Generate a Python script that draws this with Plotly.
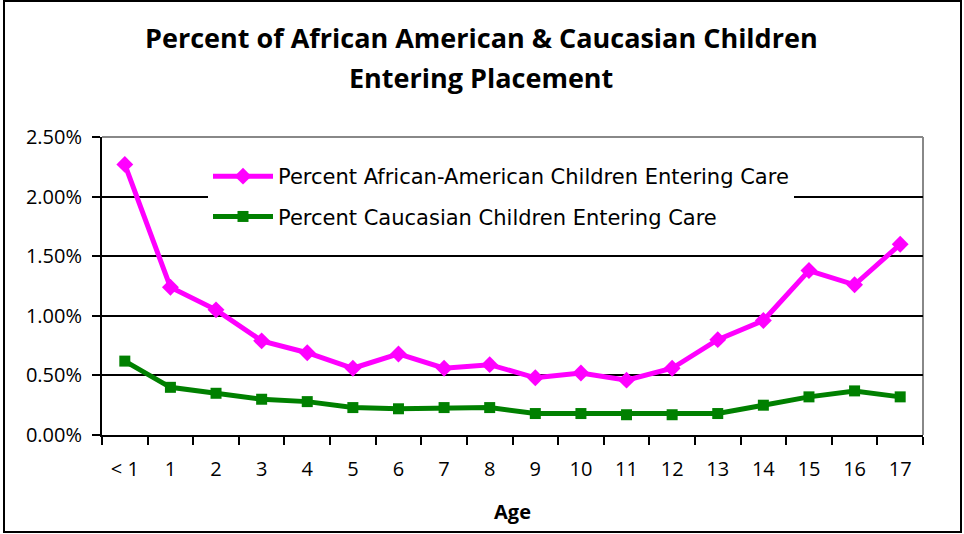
import plotly.graph_objects as go

# Age groups on the category axis
ages = ["< 1", "1", "2", "3", "4", "5", "6", "7", "8", "9",
        "10", "11", "12", "13", "14", "15", "16", "17"]

# Share of children entering placement (percent of population, as fractions)
african_american = [0.0227, 0.0124, 0.0105, 0.0079, 0.0069, 0.0056, 0.0068, 0.0056, 0.0059,
                    0.0048, 0.0052, 0.0046, 0.0056, 0.0080, 0.0096, 0.0138, 0.0126, 0.0160]
caucasian = [0.0062, 0.0040, 0.0035, 0.0030, 0.0028, 0.0023, 0.0022, 0.0023, 0.0023,
             0.0018, 0.0018, 0.0017, 0.0017, 0.0018, 0.0025, 0.0032, 0.0037, 0.0032]

y_ticks = [0, 0.005, 0.01, 0.015, 0.02, 0.025]

title_lines = ["Percent of African American & Caucasian Children", "Entering Placement"]

FONT = "Open Sans"
WIDE = "DejaVu Sans"

fig = go.Figure()
fig.add_trace(go.Scatter(
    x=ages, y=african_american, mode="lines+markers",
    name="Percent African-American Children Entering Care",
    line=dict(color="#FF00FF", width=5),
    marker=dict(symbol="diamond", size=13, color="#FF00FF"),
    legendgroup="aa",
))
fig.add_trace(go.Scatter(
    x=ages, y=caucasian, mode="lines+markers",
    name="Percent Caucasian Children Entering Care",
    line=dict(color="#008000", width=5),
    marker=dict(symbol="square", size=11, color="#008000"),
    legendgroup="wc",
))

W, H = 964, 534
L, R, T, B = 102, 41, 137, 99
pw, ph = W - L - R, H - T - B

def px_x(px):
    return (px - L) / pw

def px_y(py):
    return (H - B - py) / ph

annotations = [
    dict(text=f"<b>{line}</b>", xref="paper", yref="paper", x=px_x(481), y=px_y(cy),
         xanchor="center", yanchor="middle", showarrow=False,
         font=dict(family=FONT, size=27, color="black"))
    for line, cy in zip(title_lines, [37, 77])
]

fig.update_layout(
    width=W, height=H,
    margin=dict(l=L, r=R, t=T, b=B),
    paper_bgcolor="white", plot_bgcolor="white",
    font=dict(family=FONT, color="black"),
    annotations=annotations,
    xaxis=dict(
        type="category", tickson="boundaries", ticks="outside", ticklen=8, tickwidth=1.5,
        tickcolor="black", showline=True, linecolor="black", linewidth=2,
        showgrid=False, tickfont=dict(size=20, family=FONT), ticklabelstandoff=15,
        title=dict(text="<b>Age</b>", font=dict(size=20, family=FONT), standoff=24),
        range=[-0.5, 17.5],
    ),
    yaxis=dict(
        range=[0, 0.025], tickvals=y_ticks, tickformat=".2%", ticks="outside", ticklen=8,
        tickwidth=1.5, tickcolor="black", showline=True, linecolor="black", linewidth=2,
        showgrid=True, gridcolor="black", gridwidth=1.5, zeroline=False,
        tickfont=dict(size=20, family=FONT), ticklabelstandoff=6,
    ),
    legend=dict(
        x=px_x(208), y=px_y(156), xanchor="left", yanchor="top",
        bgcolor="white", borderwidth=0, font=dict(size=21, family=WIDE),
        traceorder="grouped", tracegroupgap=10, itemwidth=60,
    ),
    shapes=[
        # plot area frame on top and right
        dict(type="line", xref="paper", yref="paper", x0=0, x1=1, y0=1, y1=1,
             line=dict(color="#888888", width=2), layer="below"),
        dict(type="line", xref="paper", yref="paper", x0=1, x1=1, y0=0, y1=1,
             line=dict(color="#888888", width=2), layer="below"),
        # outer chart border
        dict(type="rect", xref="paper", yref="paper",
             x0=px_x(4), x1=px_x(961), y0=px_y(532), y1=px_y(1),
             line=dict(color="black", width=2), fillcolor="rgba(0,0,0,0)"),
    ],
)

fig.write_html("out.html")
